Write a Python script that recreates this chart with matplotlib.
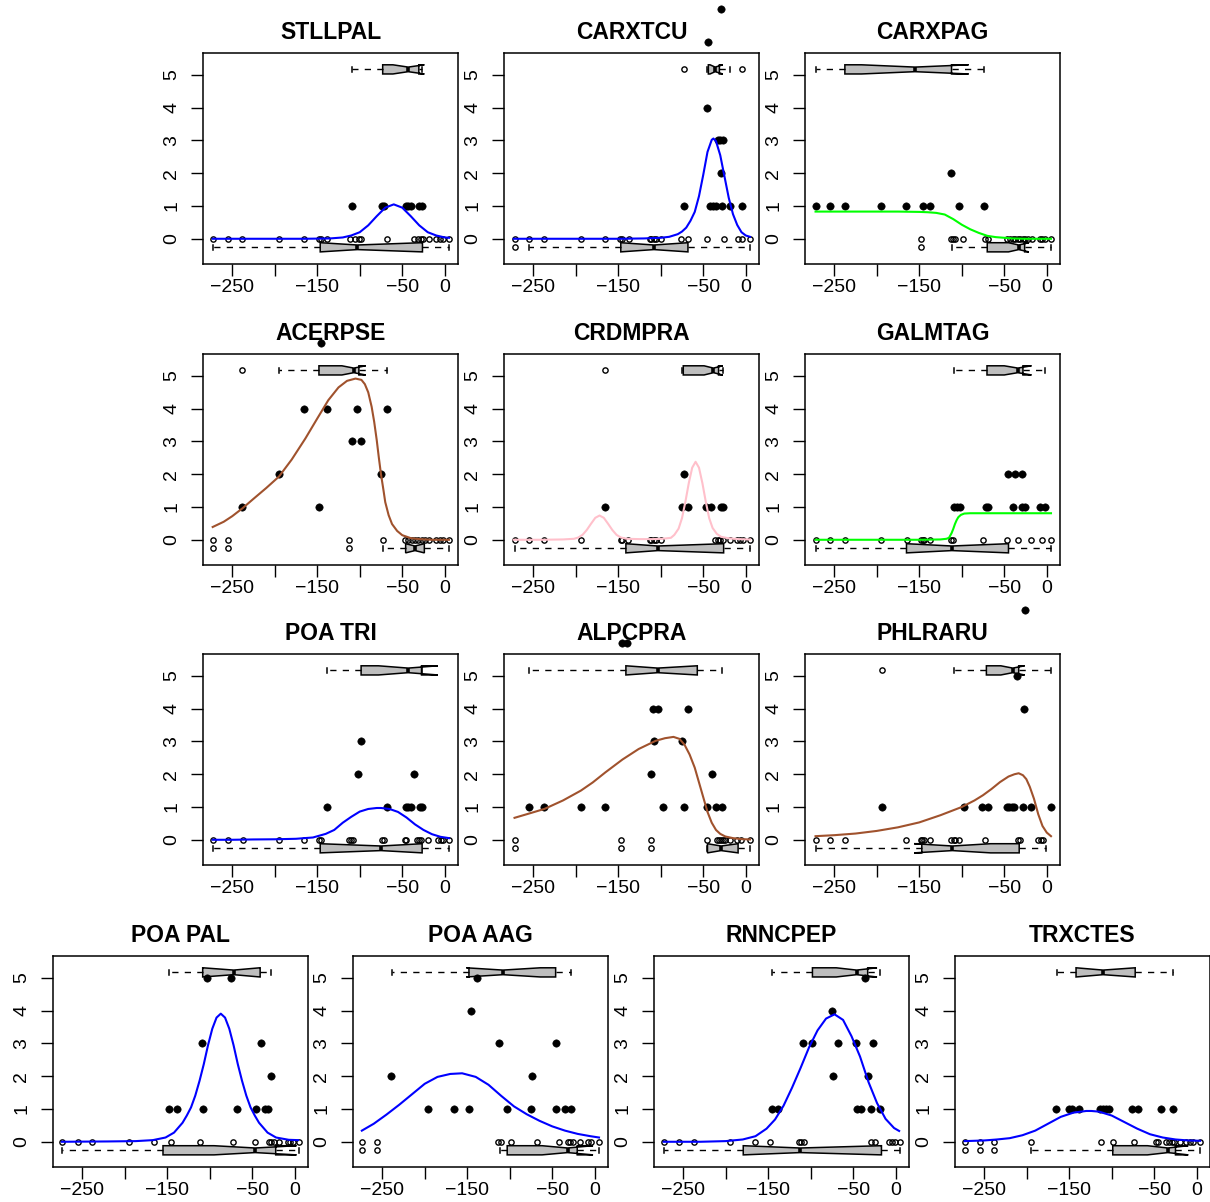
import matplotlib
matplotlib.use('Agg')
import matplotlib.pyplot as plt

plt.rcParams['font.family'] = ['Liberation Sans', 'DejaVu Sans']

# Species in panel order (3 rows of 3, then a row of 4)
species = ['STLLPAL', 'CARXTCU', 'CARXPAG',
           'ACERPSE', 'CRDMPRA', 'GALMTAG',
           'POA TRI', 'ALPCPRA', 'PHLRARU',
           'POA PAL', 'POA AAG', 'RNNCPEP', 'TRXCTES']

curve_color = {
    'STLLPAL': 'blue', 'CARXTCU': 'blue', 'CARXPAG': '#00ff00',
    'ACERPSE': 'sienna', 'CRDMPRA': 'pink', 'GALMTAG': '#00ff00',
    'POA TRI': 'blue', 'ALPCPRA': 'sienna', 'PHLRARU': 'sienna',
    'POA PAL': 'blue', 'POA AAG': 'blue', 'RNNCPEP': 'blue', 'TRXCTES': 'blue',
}

# Sites where the species is absent (drawn at 0)
absent_x = {
    'STLLPAL': [-273, -255, -238, -195, -165, -148, -145, -138, -112, -105, -101, -98, -68,
                -36, -31, -28, -25, -18, -10, -6, -2, 5],
    'CARXTCU': [-272, -255, -237, -194, -165, -148, -146, -137, -113, -111, -108, -105, -100,
                -76, -68, -46, -25, -9, -4, 5],
    'CARXPAG': [-148, -112.5, -110.5, -107.5, -98, -73, -69.5, -47, -43, -40, -37, -34, -31,
                -28.5, -25.5, -21.5, -17.5, -8, -5, -2, 5],
    'ACERPSE': [-273, -255, -112.5, -73, -47, -43, -39, -35, -31, -27, -23, -18, -10, -6, -2, 5],
    'CRDMPRA': [-272, -255, -237, -194, -147, -145, -138, -113, -111, -108, -105, -100,
                -36, -33, -30, -27, -18, -10, -7, -3, 5],
    'GALMTAG': [-272, -255, -237.5, -194.5, -164, -148, -146, -144, -137.5, -112.5, -110,
                -75, -46.5, -34, -18, -5, 5],
    'POA TRI': [-273, -255, -237.5, -194.5, -165, -147.5, -145.5, -112.5, -110.5, -108.5,
                -74, -72, -47, -45, -33, -30.5, -27.5, -19.5, -8, -4.5, -2, 5],
    'ALPCPRA': [-272, -147, -112, -46, -34, -32, -29, -27, -24, -18.5, -10, -5, 5],
    'PHLRARU': [-272, -255, -237.5, -165, -148.5, -146.5, -144.5, -137.5, -112.5, -109.5,
                -107.5, -103.5, -73, -34, -31.5, -10, -6.5, -4],
    'POA PAL': [-274, -255.5, -238.5, -195, -165.5, -146, -112, -73, -46.5, -30.5, -27.5,
                -24.5, -19, -8.5, -5.5, -2.5, 4.5],
    'POA AAG': [-274, -256, -113.5, -110, -98, -68, -42.5, -32, -29, -25, -17, -8.5, -4.5, 4.5],
    'RNNCPEP': [-273, -254.5, -237.5, -194.5, -165, -148.5, -113.5, -111, -108, -29, -24.5,
                -8.5, -4.5, -1, 4.5],
    'TRXCTES': [-273, -255, -238, -195.5, -112.5, -99, -73.5, -48, -45.5, -36, -33, -29.5,
                -26.5, -20, -12.5, -7.5, -4.5, 3.5],
}

# Sites where the species is present, with abundance class
present_x = {
    'STLLPAL': [-109, -74, -72, -46, -43, -40, -30, -27],
    'CARXTCU': [-73, -42, -38, -35, -28, -18, -4, -29, -33, -30, -27, -45, -44, -29],
    'CARXPAG': [-272, -255, -237.5, -194.5, -165, -145, -137.5, -103.5, -74, -112.5],
    'ACERPSE': [-238, -148, -195, -75, -109, -98, -165, -138, -103, -68, -145],
    'CRDMPRA': [-165, -75, -68, -47, -41, -29, -27, -73],
    'GALMTAG': [-109, -105.5, -102, -72, -69, -40, -29, -26, -8.5, -2, -45, -37, -29],
    'POA TRI': [-138, -68.5, -46, -43, -40, -29.5, -27, -102.5, -36, -98.5],
    'ALPCPRA': [-255, -237, -194, -165, -97, -73, -46, -35, -28, -112, -40, -107.5, -75,
                -109.5, -103.5, -68.5, -145, -139.5],
    'PHLRARU': [-194, -97.5, -76, -69, -47, -44, -41, -39, -28.5, -18.5, 5, -27, -35, -25.5],
    'POA PAL': [-148.5, -139, -108.5, -68.5, -45.5, -35, -32, -28.5, -109.5, -40, -103.5, -75.5],
    'POA AAG': [-196, -166, -148.5, -103, -75, -45, -35.5, -27.5, -239.5, -73.5, -112.5, -46,
                -145.5, -138.5],
    'RNNCPEP': [-145.5, -138.5, -45, -41, -29, -18, -74, -33, -109.5, -98.5, -68.5, -46.5,
                -27, -75, -36],
    'TRXCTES': [-166, -150, -146.5, -139, -113.5, -110, -106.5, -103.5, -76, -69, -41.5, -28],
}
present_y = {
    'STLLPAL': [1, 1, 1, 1, 1, 1, 1, 1],
    'CARXTCU': [1, 1, 1, 1, 1, 1, 1, 2, 3, 3, 3, 4, 6, 7],
    'CARXPAG': [1, 1, 1, 1, 1, 1, 1, 1, 1, 2],
    'ACERPSE': [1, 1, 2, 2, 3, 3, 4, 4, 4, 4, 6],
    'CRDMPRA': [1, 1, 1, 1, 1, 1, 1, 2],
    'GALMTAG': [1, 1, 1, 1, 1, 1, 1, 1, 1, 1, 2, 2, 2],
    'POA TRI': [1, 1, 1, 1, 1, 1, 1, 2, 2, 3],
    'ALPCPRA': [1, 1, 1, 1, 1, 1, 1, 1, 1, 2, 2, 3, 3, 4, 4, 4, 6, 6],
    'PHLRARU': [1, 1, 1, 1, 1, 1, 1, 1, 1, 1, 1, 4, 5, 7],
    'POA PAL': [1, 1, 1, 1, 1, 1, 1, 2, 3, 3, 5, 5],
    'POA AAG': [1, 1, 1, 1, 1, 1, 1, 1, 2, 2, 3, 3, 4, 5],
    'RNNCPEP': [1, 1, 1, 1, 1, 1, 2, 2, 3, 3, 3, 3, 3, 4, 5],
    'TRXCTES': [1, 1, 1, 1, 1, 1, 1, 1, 1, 1, 1, 1],
}

# Fitted response curves
curve_x = {
    'STLLPAL': [-273, -250, -200, -165, -150, -135, -120, -110, -100, -90, -80, -70, -60,
                -50, -40, -30, -20, -10, 0, 5],
    'CARXTCU': [-273, -200, -150, -120, -100, -90, -80, -75, -70, -65, -60, -55, -50, -45,
                -40, -38, -35, -30, -25, -20, -15, -10, -5, 0, 5],
    'CARXPAG': [-272, -250, -200, -175, -150, -140, -130, -120, -110, -100, -90, -80, -70,
                -60, -50, -40, -25, 5],
    'ACERPSE': [-273, -260, -250, -238, -225, -210, -195, -180, -164, -150, -137, -125, -115,
                -105, -98, -94, -90, -86, -83, -80, -77.5, -75, -72, -70, -66, -62, -56, -50,
                -40, -30, -15, 5],
    'CRDMPRA': [-273, -240, -215, -202, -197, -192, -187, -182, -177, -172, -167, -162, -157,
                -152, -147, -140, -125, -110, -98, -88, -84, -79, -75, -71, -67, -63, -59,
                -55, -51, -47, -43, -39, -34, -29, -19, -8, 5],
    'GALMTAG': [-272, -200, -150, -125, -118, -115, -112, -110, -108, -106, -104, -101, -97,
                -90, -50, 5],
    'POA TRI': [-273, -250, -225, -200, -175, -155, -140, -130, -120, -110, -100, -90, -80,
                -75, -65, -55, -45, -35, -25, -15, -5, 5],
    'ALPCPRA': [-272, -255, -237, -215, -194, -180, -165, -145, -126, -106, -95, -85, -78,
                -72, -66, -60, -55, -50, -45, -40, -35, -30, -24, -15, -5, 5],
    'PHLRARU': [-272, -250, -225, -200, -175, -150, -125, -100, -85, -75, -65, -55, -45, -38,
                -33, -28, -24, -20, -15, -10, -5, 0, 5],
    'POA PAL': [-274, -220, -187, -167, -152, -142, -132, -127, -122, -117, -112, -107, -102,
                -97, -92, -87, -82, -77, -72, -67, -62, -57, -52, -47, -42, -32, -22, -7, 4],
    'POA AAG': [-274, -260, -245, -230, -215, -200, -185, -170, -156, -140, -125, -110, -95,
                -80, -65, -50, -35, -20, -5, 5],
    'RNNCPEP': [-273, -230, -200, -180, -165, -152, -142, -132, -122, -112, -102, -92, -82,
                -72, -62, -52, -42, -32, -22, -12, -2, 4],
    'TRXCTES': [-273, -250, -235, -220, -205, -190, -175, -160, -145, -130, -124, -115, -100,
                -85, -70, -55, -40, -25, -10, 4],
}
curve_y = {
    'STLLPAL': [0.0, 0.0, 0.0, 0.0, 0.005, 0.01, 0.04, 0.1, 0.2, 0.41, 0.69, 0.95, 1.05,
                0.95, 0.69, 0.41, 0.2, 0.1, 0.04, 0.03],
    'CARXTCU': [0.0, 0.0, 0.0, 0.01, 0.03, 0.06, 0.14, 0.22, 0.34, 0.55, 0.82, 1.3, 1.95,
                2.65, 3.02, 3.06, 2.98, 2.55, 1.9, 1.25, 0.75, 0.42, 0.2, 0.1, 0.06],
    'CARXPAG': [0.83, 0.83, 0.83, 0.83, 0.82, 0.81, 0.79, 0.74, 0.6, 0.43, 0.29, 0.18, 0.09,
                0.05, 0.03, 0.01, 0.0, 0.0],
    'ACERPSE': [0.39, 0.55, 0.72, 0.96, 1.25, 1.58, 1.93, 2.45, 3.09, 3.7, 4.26, 4.65, 4.85,
                4.92, 4.88, 4.75, 4.5, 4.06, 3.6, 3.04, 2.5, 2.0, 1.5, 1.15, 0.75, 0.48, 0.27,
                0.14, 0.05, 0.02, 0.0, 0.0],
    'CRDMPRA': [0.0, 0.0, 0.01, 0.03, 0.07, 0.15, 0.3, 0.49, 0.67, 0.74, 0.67, 0.49, 0.3,
                0.15, 0.07, 0.03, 0.02, 0.02, 0.03, 0.06, 0.15, 0.34, 0.66, 1.16, 1.73, 2.2,
                2.38, 2.2, 1.73, 1.16, 0.66, 0.36, 0.18, 0.09, 0.04, 0.02, 0.01],
    'GALMTAG': [0.0, 0.0, 0.0, 0.01, 0.03, 0.06, 0.2, 0.33, 0.48, 0.6, 0.69, 0.76, 0.8, 0.81,
                0.81, 0.81],
    'POA TRI': [0.0, 0.0, 0.01, 0.015, 0.03, 0.07, 0.18, 0.3, 0.52, 0.7, 0.86, 0.94, 0.97,
                0.97, 0.94, 0.85, 0.68, 0.47, 0.3, 0.17, 0.09, 0.05],
    'ALPCPRA': [0.67, 0.8, 0.94, 1.2, 1.5, 1.75, 2.06, 2.45, 2.77, 3.02, 3.1, 3.14, 3.08, 2.9,
                2.6, 2.2, 1.75, 1.3, 0.85, 0.52, 0.3, 0.18, 0.1, 0.05, 0.02, 0.01],
    'PHLRARU': [0.11, 0.14, 0.19, 0.27, 0.38, 0.53, 0.75, 1.0, 1.2, 1.36, 1.55, 1.76, 1.93,
                2.0, 2.03, 1.97, 1.85, 1.62, 1.25, 0.78, 0.42, 0.22, 0.11],
    'POA PAL': [0.0, 0.01, 0.02, 0.05, 0.13, 0.28, 0.58, 0.8, 1.05, 1.41, 1.86, 2.37, 2.95,
                3.45, 3.79, 3.91, 3.79, 3.45, 2.95, 2.37, 1.86, 1.41, 1.05, 0.8, 0.58, 0.28,
                0.13, 0.06, 0.05],
    'POA AAG': [0.34, 0.55, 0.83, 1.13, 1.45, 1.77, 1.98, 2.07, 2.09, 1.98, 1.74, 1.4, 1.08,
                0.84, 0.64, 0.47, 0.34, 0.24, 0.17, 0.13],
    'RNNCPEP': [0.0, 0.0, 0.02, 0.07, 0.17, 0.4, 0.68, 1.1, 1.65, 2.25, 2.88, 3.4, 3.76,
                3.89, 3.72, 3.22, 2.6, 1.82, 1.18, 0.7, 0.42, 0.33],
    'TRXCTES': [0.02, 0.04, 0.07, 0.11, 0.2, 0.34, 0.55, 0.76, 0.89, 0.94, 0.94, 0.92, 0.8,
                0.6, 0.4, 0.23, 0.13, 0.07, 0.04, 0.03],
}

# Notched box stats: whislo, q1, cilo, med, cihi, q3, whishi
pres_box = {
    'STLLPAL': (-109, -73, -61, -43, -24, -30.5, -27),
    'CARXTCU': (-45, -44, -42, -36, -27, -31, -18.5),
    'CARXPAG': (-272, -237.5, -218, -155, -92, -112, -74),
    'ACERPSE': (-195, -148, -121, -107, -93, -101, -68.4),
    'CRDMPRA': (-75, -73.5, -49, -38, -27, -32, -27.3),
    'GALMTAG': (-109.4, -70.3, -50, -34, -18, -28, -2),
    'POA TRI': (-138, -98.4, -78, -43, -8, -27.3, -27.3),
    'ALPCPRA': (-255, -141, -141, -103.5, -57, -57, -28),
    'PHLRARU': (-109, -71, -54, -40, -26, -33, 5),
    'POA PAL': (-148.5, -108.3, -108, -71.8, -41, -40.7, -28.3),
    'POA AAG': (-239, -148, -151, -108, -64, -46, -27.5),
    'RNNCPEP': (-145, -98, -70, -46, -22, -33, -18),
    'TRXCTES': (-164.8, -142, -142, -110.2, -72.4, -72.4, -28.2),
}
pres_out = {
    'STLLPAL': [], 'CARXTCU': [-73, -4], 'CARXPAG': [], 'ACERPSE': [-238],
    'CRDMPRA': [-165], 'GALMTAG': [], 'POA TRI': [], 'ALPCPRA': [],
    'PHLRARU': [-194], 'POA PAL': [], 'POA AAG': [], 'RNNCPEP': [], 'TRXCTES': [],
}
abs_box = {
    'STLLPAL': (-273, -146.5, -146, -102.7, -27, -26.2, 4.7),
    'CARXTCU': (-255, -147, -147, -108, -68, -68, 5),
    'CARXPAG': (-111, -70, -45, -33, -21, -26, 5),
    'ACERPSE': (-73, -46, -46, -35, -24, -24, 5),
    'CRDMPRA': (-272, -141, -141, -103.5, -26, -26, 5),
    'GALMTAG': (-272, -165, -165, -111.6, -45, -45, 5),
    'POA TRI': (-273, -146.5, -146.5, -75, -26.6, -26.6, 4.7),
    'ALPCPRA': (-45.7, -45, -45, -29, -9, -9, 5),
    'PHLRARU': (-272, -147, -156, -111, -66, -32.4, -1),
    'POA PAL': (-274, -155, -95, -46.6, 2, -22.4, 4.6),
    'POA AAG': (-111.5, -103, -62, -32, -2, -20.6, 4.6),
    'RNNCPEP': (-273, -179.4, -179, -112.5, -17, -16.8, 4.5),
    'TRXCTES': (-195.4, -98.8, -58, -34, -10, -25, 3.6),
}
abs_out = {
    'STLLPAL': [], 'CARXTCU': [-272], 'CARXPAG': [-148], 'ACERPSE': [-273, -255, -112.5],
    'CRDMPRA': [], 'GALMTAG': [], 'POA TRI': [], 'ALPCPRA': [-272, -147, -112],
    'PHLRARU': [], 'POA PAL': [], 'POA AAG': [-274, -256], 'RNNCPEP': [],
    'TRXCTES': [-273, -255, -238],
}

x_ticks = [-250, -200, -150, -100, -50, 0]
x_labels = ['\u2212250', '', '\u2212150', '', '\u221250', '0']
y_ticks = [0, 1, 2, 3, 4, 5]

PRES_POS = 5.17
ABS_POS = -0.26
W, H = 1210, 1202


def box_stats(vals, fliers):
    lo, q1, cilo, med, cihi, q3, hi = vals
    return dict(whislo=lo, q1=q1, cilo=cilo, med=med, cihi=cihi, q3=q3,
                whishi=hi, fliers=fliers)


def draw_box(ax, stats, pos):
    kw = dict(positions=[pos], widths=[0.28], shownotches=True, patch_artist=True,
              boxprops=dict(facecolor='#bebebe', edgecolor='black', linewidth=1.1),
              whiskerprops=dict(linestyle=(0, (4.5, 4.5)), linewidth=1.0),
              capprops=dict(linewidth=1.1),
              medianprops=dict(color='black', linewidth=2.6, solid_capstyle='butt'),
              flierprops=dict(marker='o', markerfacecolor='none', markeredgecolor='black',
                              markersize=3.8, markeredgewidth=1.0),
              manage_ticks=False)
    try:
        ax.bxp([stats], orientation='horizontal', **kw)
    except TypeError:
        ax.bxp([stats], vert=False, **kw)


def panel_rect(i):
    if i < 9:
        left = [203, 504, 805][i % 3]
        top = [53, 354, 654][i // 3]
    else:
        left = [53, 353, 654, 955][i - 9]
        top = 956
    w, h = 255, 211
    return [left / W, 1 - (top + h) / H, w / W, h / H]


fig = plt.figure(figsize=(W / 100, H / 100), dpi=100)

for i, sp in enumerate(species):
    ax = fig.add_axes(panel_rect(i))
    ax.plot(absent_x[sp], [0] * len(absent_x[sp]), 'o', mfc='none', mec='black',
            ms=3.8, mew=1.0, zorder=3)
    ax.plot(present_x[sp], present_y[sp], 'o', color='black', ms=5.3, mew=0.4,
            clip_on=False, zorder=3)
    draw_box(ax, box_stats(pres_box[sp], pres_out[sp]), PRES_POS)
    draw_box(ax, box_stats(abs_box[sp], abs_out[sp]), ABS_POS)
    ax.plot(curve_x[sp], curve_y[sp], color=curve_color[sp], lw=1.5, zorder=4)

    ax.set_xlim(-284.4, 15.6)
    ax.set_ylim(-0.77, 5.67)
    ax.set_xticks(x_ticks)
    ax.set_xticklabels(x_labels)
    ax.set_yticks(y_ticks)
    ax.set_yticklabels([str(v) for v in y_ticks])
    ax.tick_params(axis='both', length=8.4, width=1.0, labelsize=14)
    ax.tick_params(axis='x', pad=2.5)
    ax.tick_params(axis='y', pad=8, labelrotation=90)
    for lab in ax.get_yticklabels():
        lab.set_verticalalignment('center')
    for s in ax.spines.values():
        s.set_linewidth(1.1)
    ax.set_title(sp, fontsize=16.5, fontweight='bold', pad=10)

fig.savefig('out.png', dpi=100)
